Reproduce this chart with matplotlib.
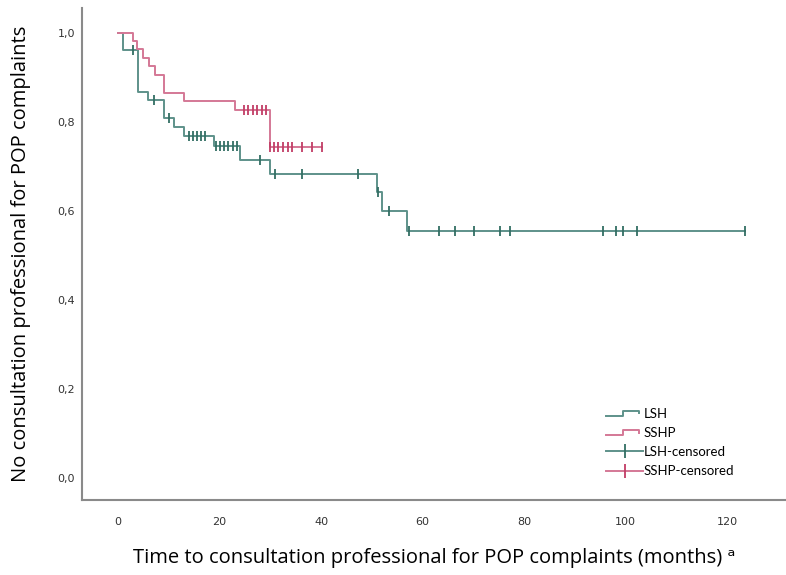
import numpy as np
import matplotlib
matplotlib.use('Agg')
import matplotlib.pyplot as plt
from matplotlib.legend_handler import HandlerBase
from matplotlib.lines import Line2D

# LSH group: event times (months) and survival after each step
lsh_t = [0, 1, 4, 6, 9, 11, 13, 19, 24, 30, 51, 52, 57]
lsh_s = [1.0, 0.962, 0.868, 0.849, 0.808, 0.788, 0.768, 0.746, 0.714, 0.683, 0.643, 0.601, 0.555]
lsh_cens = [3, 7, 10, 13.9, 14.7, 15.5, 16.3, 17.1, 19.3, 20.1, 20.9, 21.7, 22.6, 23.5,
            28, 31, 36.2, 47.2, 51.2, 53.3, 57.3, 63.3, 66.3, 70.2, 75.3, 77.2,
            95.5, 98.2, 99.4, 102.3, 123.5]
lsh_end = 123.5

# SSHP group
sshp_t = [0, 3, 3.7, 5, 6.2, 7.2, 9, 13, 23, 30]
sshp_s = [1.0, 0.982, 0.963, 0.944, 0.925, 0.906, 0.866, 0.847, 0.827, 0.745]
sshp_cens = [24.8, 25.7, 26.5, 27.4, 28.3, 29.2, 30, 30.7, 31.6, 32.5, 33.4, 34.2,
             36.2, 38.2, 40.1]
sshp_end = 40.1

x_ticks = [0, 20, 40, 60, 80, 100, 120]
y_ticks = [0.0, 0.2, 0.4, 0.6, 0.8, 1.0]

green_line = '#5e928a'
green_mark = '#336e63'
red_line = '#d47896'
red_mark = '#c23d66'


def surv_at(times, surv, t):
    idx = np.searchsorted(times, t, side='right') - 1
    return surv[idx]


class StepHandler(HandlerBase):
    def __init__(self, color):
        super().__init__()
        self.color = color

    def create_artists(self, legend, orig_handle, xdescent, ydescent, width, height, fontsize, trans):
        xs = np.array([0, 0.45, 0.45, 0.88, 0.88]) * width - xdescent
        ys = np.array([0.15, 0.15, 0.75, 0.75, 0.45]) * height - ydescent
        ln = Line2D(xs, ys, color=self.color, lw=1.4, transform=trans)
        return [ln]


class H1:
    pass


class H2:
    pass


fig = plt.figure(figsize=(7.86, 5.75), dpi=100)
ax = fig.add_axes([0.1043, 0.1304, 0.8957, 0.8556])

for times, surv, end, cens, lc, mc in [(lsh_t, lsh_s, lsh_end, lsh_cens, green_line, green_mark),
                                        (sshp_t, sshp_s, sshp_end, sshp_cens, red_line, red_mark)]:
    xs = list(times) + [end]
    ys = list(surv) + [surv[-1]]
    ax.step(xs, ys, where='post', color=lc, lw=1.4)
    cy = [surv_at(times, surv, c) for c in cens]
    ax.plot(cens, cy, ls='none', marker='|', ms=7, mew=1.3, color=mc)

ax.set_xlim(-7.1, 131.6)
ax.set_ylim(-0.049, 1.056)
ax.set_xticks(x_ticks)
ax.set_xticklabels([str(v) for v in x_ticks])
ax.set_yticks(y_ticks)
ax.set_yticklabels([('%.1f' % v).replace('.', ',') for v in y_ticks])
ax.tick_params(length=0, labelsize=8, labelcolor='#333333')
ax.tick_params(axis='x', pad=12)
ax.tick_params(axis='y', pad=5)
for side in ['top', 'right']:
    ax.spines[side].set_visible(False)
for side in ['left', 'bottom']:
    ax.spines[side].set_color('#8a8a8a')
    ax.spines[side].set_linewidth(1.5)

ax.set_xlabel('Time to consultation professional for POP complaints (months) ᵃ',
              fontsize=14.5, family=['Open Sans', 'DejaVu Sans'], labelpad=15)
ax.set_ylabel('No consultation professional for POP complaints',
              fontsize=14.5, family=['Open Sans', 'DejaVu Sans'], labelpad=19)

h3 = Line2D([], [], color=green_line, lw=1.4, marker='|', ms=10, mew=1.3, mec=green_mark)
h4 = Line2D([], [], color=red_line, lw=1.4, marker='|', ms=10, mew=1.3, mec=red_mark)

ax.legend([H1(), H2(), h3, h4], ['LSH', 'SSHP', 'LSH-censored', 'SSHP-censored'],
          handler_map={H1: StepHandler(green_line), H2: StepHandler(red_line)},
          loc='upper left', bbox_to_anchor=(0.728, 0.212), frameon=False,
          handlelength=2.8, handletextpad=0.0, labelspacing=0.55,
          prop={'family': 'Lato', 'size': 9.5})

fig.savefig('out.png', dpi=100)
